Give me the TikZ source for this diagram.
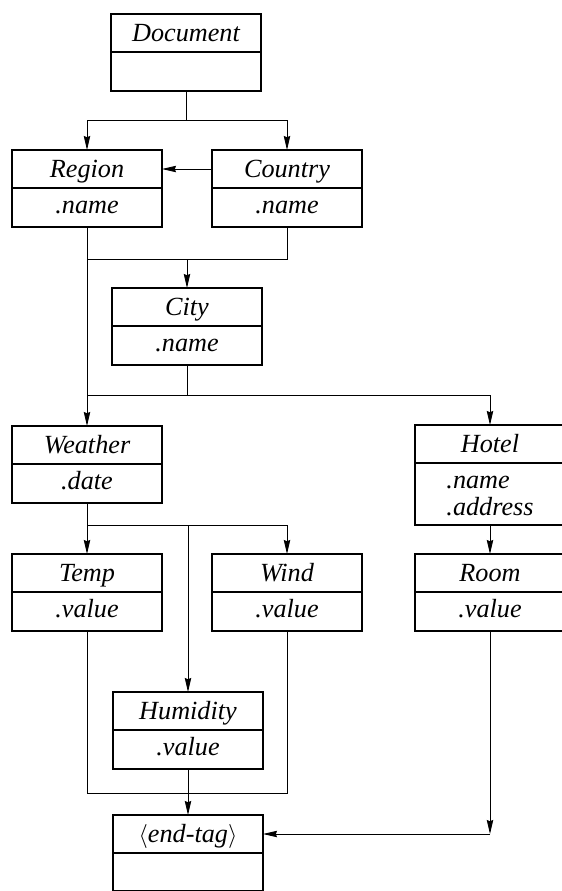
\documentclass[tikz,border=0pt]{standalone}
\usepackage{fontspec}
\setmainfont{Liberation Serif}
\usepackage{tikz}
\usetikzlibrary{positioning,arrows.meta}

\begin{document}
\begin{tikzpicture}[x=0.5pt,y=-0.5pt,
    head/.style={draw,line width=0.8pt,outer sep=0pt,inner sep=0pt,
      minimum width=75pt,minimum height=19pt,text height=10pt,text depth=2pt,
      font=\fontsize{13.1pt}{13.5pt}\selectfont\itshape,anchor=north},
    body/.style={head,minimum height=19.5pt,text height=9.8pt,text depth=3.4pt},
    wire/.style={line width=0.45pt},
    link/.style={wire,-{Stealth[length=7pt,width=3.2pt,inset=0.6pt]}}]
\useasboundingbox (0,0) rectangle (562,891);
\clip (0,0) rectangle (562,891);
% classes
\node[head] (doc) at (186,14) {Document};
\node[body,below=0pt of doc] (docb) {};
\node[head] (region) at (87,150) {Region};
\node[body,below=0pt of region] (regionb) {.name};
\node[head] (country) at (287,150) {Country};
\node[body,below=0pt of country] (countryb) {.name};
\node[head] (city) at (187,288) {City};
\node[body,below=0pt of city] (cityb) {.name};
\node[head] (weather) at (87,426) {Weather};
\node[body,below=0pt of weather] (weatherb) {.date};
\node[head] (hotel) at (490,425) {Hotel};
\node[body,below=0pt of hotel,minimum height=31pt,text height=23.3pt,
      text depth=2.2pt,align=left] (hotelb) {.name\\.address};
\node[head] (temp) at (87,554) {Temp};
\node[body,below=0pt of temp] (tempb) {.value};
\node[head] (wind) at (287,554) {Wind};
\node[body,below=0pt of wind] (windb) {.value};
\node[head] (room) at (490,554) {Room};
\node[body,below=0pt of room] (roomb) {.value};
\node[head] (humid) at (188,692) {Humidity};
\node[body,below=0pt of humid] (humidb) {.value};
\node[head] (endtag) at (188,815) {$\langle$end-tag$\rangle$};
\node[body,below=0pt of endtag,minimum height=19pt] (endtagb) {};
% links
\coordinate (split1) at (186,120);
\draw[wire] (docb.south) -- (split1);
\draw[link] (split1) -| (region.north);
\draw[link] (split1) -| (country.north);
\draw[link] (country.west) -- (region.east);
\coordinate (join1) at (187,259);
\draw[wire] (regionb.south) |- (join1);
\draw[wire] (countryb.south) |- (join1);
\draw[link] (join1) -- (city.north);
\draw[link] (regionb.south) -- (weather.north);
\coordinate (split2) at (187,395);
\draw[wire] (cityb.south) -- (split2);
\draw[wire] (split2) -- (split2 -| weather.north);
\draw[link] (split2) -| (hotel.north);
\coordinate (split3) at (87,525);
\draw[wire] (weatherb.south) -- (split3);
\draw[link] (split3) -- (temp.north);
\draw[link] (split3) -| (wind.north);
\draw[link] (split3 -| humid.north) -- (humid.north);
\draw[link] (hotelb.south) -- (room.north);
\coordinate (join2) at (188,793);
\draw[wire] (tempb.south) |- (join2) -| (windb.south);
\draw[link] (humidb.south) -- (endtag.north);
\coordinate (bend) at (roomb.south |- endtag.east);
\draw[link] (roomb.south) -- (bend);
\draw[link] (bend) -- (endtag.east);
\end{tikzpicture}
\end{document}
